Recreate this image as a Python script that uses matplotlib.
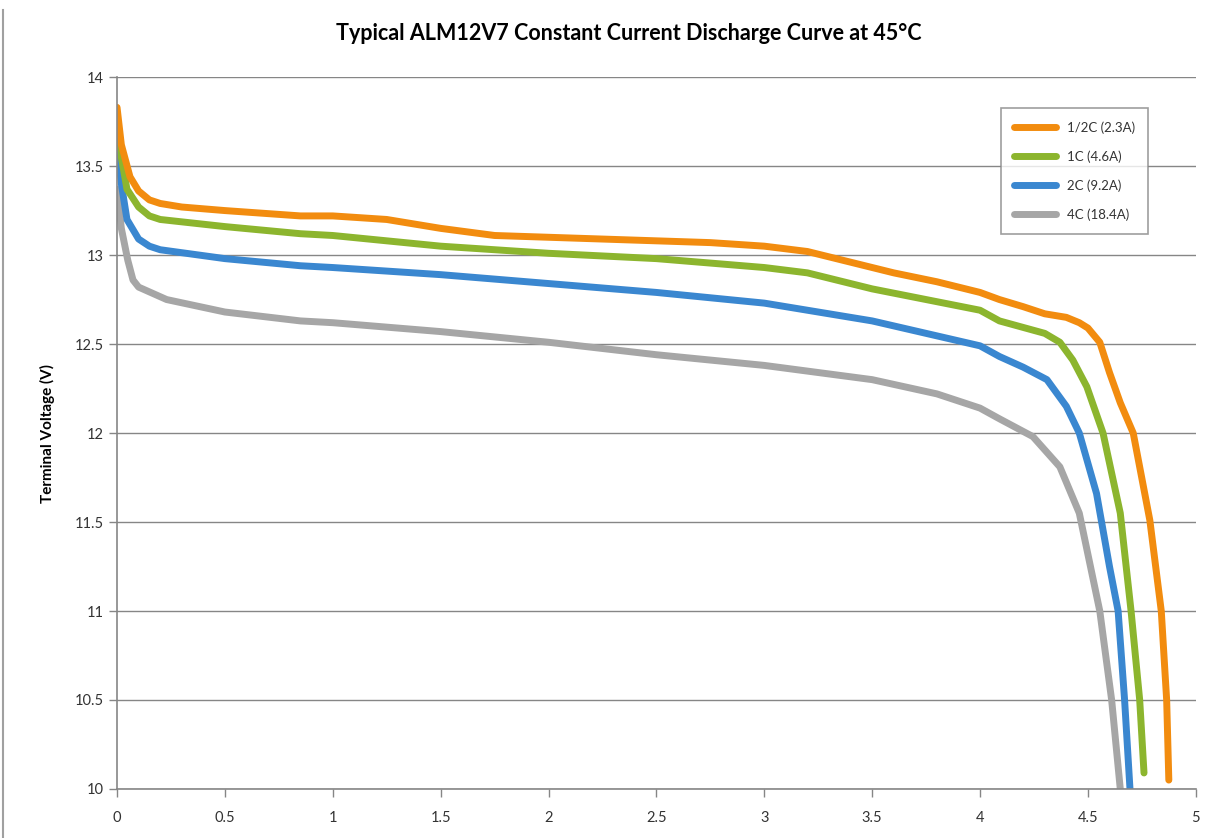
"""
ALM12V7 恒流放电曲线 (45°C) 重绘
"""
import matplotlib
matplotlib.use('Agg')
import matplotlib.pyplot as plt
from matplotlib.lines import Line2D

plt.rcParams['font.family'] = ['Lato', 'DejaVu Sans']

# 数据
x_half = [0, 0.02, 0.06, 0.1, 0.15, 0.2, 0.3, 0.5, 0.85, 1.0, 1.25, 1.4, 1.5, 1.75, 2.0,
          2.5, 2.75, 3.0, 3.2, 3.4, 3.6, 3.8, 4.0, 4.09, 4.2, 4.3, 4.4, 4.46, 4.5,
          4.555, 4.6, 4.65, 4.71, 4.787, 4.84, 4.865, 4.875]
v_half = [13.83, 13.62, 13.44, 13.36, 13.31, 13.29, 13.27, 13.25, 13.22, 13.22, 13.20, 13.17,
          13.15, 13.11, 13.10, 13.08, 13.07, 13.05, 13.02, 12.96, 12.90, 12.85, 12.79, 12.75,
          12.71, 12.67, 12.65, 12.62, 12.59, 12.51, 12.34, 12.17, 12.0, 11.51, 11.0, 10.5, 10.05]

x_1c = [0, 0.02, 0.046, 0.1, 0.15, 0.2, 0.5, 0.85, 1.0, 1.5, 2.0, 2.5, 3.0, 3.2, 3.5, 4.0,
        4.09, 4.3, 4.37, 4.43, 4.495, 4.57, 4.65, 4.70, 4.74, 4.76]
v_1c = [13.76, 13.55, 13.37, 13.27, 13.22, 13.20, 13.16, 13.12, 13.11, 13.05, 13.01, 12.98,
        12.93, 12.90, 12.81, 12.69, 12.63, 12.56, 12.51, 12.41, 12.26, 12.0, 11.55, 11.0,
        10.5, 10.09]

x_2c = [0, 0.02, 0.046, 0.1, 0.15, 0.2, 0.5, 0.85, 1.0, 1.5, 2.0, 2.5, 3.0, 3.5, 4.0, 4.09,
        4.2, 4.31, 4.40, 4.46, 4.54, 4.60, 4.64, 4.67, 4.695]
v_2c = [13.63, 13.40, 13.20, 13.09, 13.05, 13.03, 12.98, 12.94, 12.93, 12.89, 12.84, 12.79,
        12.73, 12.63, 12.49, 12.43, 12.37, 12.30, 12.15, 12.0, 11.66, 11.25, 11.0, 10.5, 10.0]

x_4c = [0, 0.02, 0.05, 0.074, 0.1, 0.23, 0.5, 0.85, 1.0, 1.5, 2.0, 2.5, 3.0, 3.5, 3.8, 4.0,
        4.09, 4.245, 4.37, 4.46, 4.555, 4.61, 4.65]
v_4c = [13.37, 13.15, 12.97, 12.86, 12.82, 12.75, 12.68, 12.63, 12.62, 12.57, 12.51, 12.44,
        12.38, 12.30, 12.22, 12.14, 12.08, 11.98, 11.81, 11.55, 11.0, 10.5, 10.0]

labels = ['1/2C (2.3A)', '1C (4.6A)', '2C (9.2A)', '4C (18.4A)']
colors = ['#F28C0F', '#8CB52E', '#3A87D0', '#A6A6A6']

fig = plt.figure(figsize=(12.14, 8.38), dpi=100)
ax = fig.add_axes([0.0964, 0.0585, 0.8886, 0.8495])

series = [(x_half, v_half), (x_1c, v_1c), (x_2c, v_2c), (x_4c, v_4c)]
# 倒序绘制, 让橙色在最上层
for (xs, vs), lab, c in reversed(list(zip(series, labels, colors))):
    ax.plot(xs, vs, color=c, linewidth=5, solid_capstyle='round', label=lab)

ax.set_xlim(0, 5)
ax.set_ylim(10, 14)
ax.set_xticks([0, 0.5, 1, 1.5, 2, 2.5, 3, 3.5, 4, 4.5, 5])
ax.set_xticklabels(['0', '0.5', '1', '1.5', '2', '2.5', '3', '3.5', '4', '4.5', '5'])
ax.set_yticks([10, 10.5, 11, 11.5, 12, 12.5, 13, 13.5, 14])
ax.set_yticklabels(['10', '10.5', '11', '11.5', '12', '12.5', '13', '13.5', '14'])
ax.tick_params(axis='both', colors='#868686', labelcolor='#333333', labelsize=10.5,
               length=6, width=1)
ax.tick_params(axis='x', pad=10)
ax.grid(True, axis='y', color='#868686', linewidth=1)
ax.set_axisbelow(True)
for side in ['top', 'right']:
    ax.spines[side].set_visible(False)
for side in ['left', 'bottom']:
    ax.spines[side].set_color('#868686')
    ax.spines[side].set_linewidth(1.2)

ax.set_ylabel('Terminal Voltage (V)', fontsize=11, fontweight='bold', labelpad=14)
fig.suptitle('Typical ALM12V7 Constant Current Discharge Curve at 45°C',
             fontsize=15.5, fontweight='bold', x=0.518, y=0.972)

handles, labs = ax.get_legend_handles_labels()
leg = ax.legend(handles[::-1], labs[::-1], loc='upper left',
                bbox_to_anchor=(0.819, 0.879), bbox_transform=fig.transFigure,
                fontsize=9.5, frameon=True, fancybox=False, handlelength=3.2,
                labelspacing=1.25, borderpad=1.0, handletextpad=0.8)
leg.get_frame().set_edgecolor('#868686')
leg.get_frame().set_linewidth(1.2)
for t in leg.get_texts():
    t.set_color('#333333')

# 左侧图片边框
fig.add_artist(Line2D([0.0025, 0.0025], [0, 0.988], color='#A0A0A0', linewidth=1.5,
                      transform=fig.transFigure))

plt.savefig('out.png', dpi=100)
plt.close()
